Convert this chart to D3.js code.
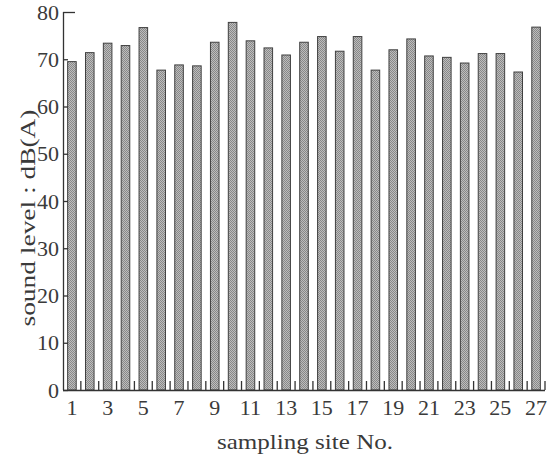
<!DOCTYPE html>
<html>
<head>
<meta charset="utf-8">
<script src="https://cdn.jsdelivr.net/npm/d3@7"></script>
<style>
  body { margin: 0; background: #fff; }
  svg text { font-family: "Liberation Serif", "DejaVu Serif", serif; fill: #3a3a3a; }
</style>
</head>
<body>
<svg id="chart" width="554" height="458"></svg>
<script>
// sampling sites 1..27
const sites = d3.range(1, 28);
// sound level, dB(A)
const levels = [69.5, 71.4, 73.4, 72.9, 76.7, 67.7, 68.8, 68.6, 73.6, 77.8,
  73.9, 72.4, 70.9, 73.6, 74.8, 71.7, 74.8, 67.7, 72.0, 74.3,
  70.7, 70.4, 69.2, 71.2, 71.2, 67.3, 76.8];
const yTicks = [0, 10, 20, 30, 40, 50, 60, 70, 80];
const xTickLabels = [1, 3, 5, 7, 9, 11, 13, 15, 17, 19, 21, 23, 25, 27];

const svg = d3.select('#chart');
const plotLeft = 63, plotRight = 545, plotTop = 12, plotBottom = 390;

const x = d3.scaleBand()
  .domain(sites)
  .range([plotLeft, plotRight])
  .paddingInner(0.52)
  .paddingOuter(0.26);
const y = d3.scaleLinear().domain([0, 80]).range([plotBottom, plotTop]);

// halftone-ish fill like the printed bars
const defs = svg.append('defs');
const pat = defs.append('pattern')
  .attr('id', 'dots')
  .attr('width', 2).attr('height', 2)
  .attr('patternUnits', 'userSpaceOnUse');
pat.append('rect').attr('width', 2).attr('height', 2).attr('fill', '#bdbdbd');
pat.append('rect').attr('width', 1).attr('height', 1).attr('fill', '#888');
pat.append('rect').attr('x', 1).attr('y', 1).attr('width', 1).attr('height', 1).attr('fill', '#888');

svg.append('g')
  .selectAll('rect')
  .data(sites)
  .join('rect')
  .attr('x', (d) => x(d))
  .attr('y', (d, i) => y(levels[i]))
  .attr('width', x.bandwidth())
  .attr('height', (d, i) => y(0) - y(levels[i]))
  .attr('fill', 'url(#dots)')
  .attr('stroke', '#404040')
  .attr('stroke-width', 1);

// y axis: ticks point inward
const yAxis = svg.append('g')
  .attr('transform', `translate(${plotLeft},0)`)
  .call(d3.axisRight(y).tickValues(yTicks).tickSize(5).tickFormat(''));
yAxis.select('.domain').attr('d', `M0.5,${y(80)}V${y(0)}`);
yAxis.selectAll('.tick line').filter((d) => d === 80).attr('x2', 12);
yAxis.selectAll('line, path').attr('stroke', '#333').attr('stroke-width', 1.3);

svg.append('g')
  .selectAll('text')
  .data(yTicks)
  .join('text')
  .attr('x', plotLeft - 4)
  .attr('y', (d) => y(d))
  .attr('dy', '0.35em')
  .attr('text-anchor', 'end')
  .attr('font-size', 22)
  .text((d) => d);

// x axis: ticks between bars, pointing up
const step = x.step();
const bounds = d3.range(1, sites.length + 1).map((k) => plotLeft + step * k);
const xAxis = svg.append('g');
xAxis.append('line')
  .attr('x1', plotLeft).attr('x2', plotRight)
  .attr('y1', plotBottom + 0.5).attr('y2', plotBottom + 0.5);
xAxis.selectAll('.bt')
  .data(bounds)
  .join('line')
  .attr('class', 'bt')
  .attr('x1', (d) => d).attr('x2', (d) => d)
  .attr('y1', plotBottom).attr('y2', plotBottom - 9);
xAxis.selectAll('line').attr('stroke', '#333').attr('stroke-width', 1.3);

svg.append('g')
  .selectAll('text')
  .data(xTickLabels)
  .join('text')
  .attr('x', (d) => x(d) + x.bandwidth() / 2)
  .attr('y', 415)
  .attr('text-anchor', 'middle')
  .attr('font-size', 22)
  .text((d) => d);

// axis titles
svg.append('text')
  .attr('x', 305)
  .attr('y', 449)
  .attr('text-anchor', 'middle')
  .attr('font-size', 21)
  .attr('textLength', 176)
  .attr('lengthAdjust', 'spacingAndGlyphs')
  .text('sampling site No.');

svg.append('text')
  .attr('transform', 'translate(35,218) rotate(-90)')
  .attr('text-anchor', 'middle')
  .attr('font-size', 21)
  .attr('textLength', 217)
  .attr('lengthAdjust', 'spacingAndGlyphs')
  .text('sound level : dB(A)');
</script>
</body>
</html>
